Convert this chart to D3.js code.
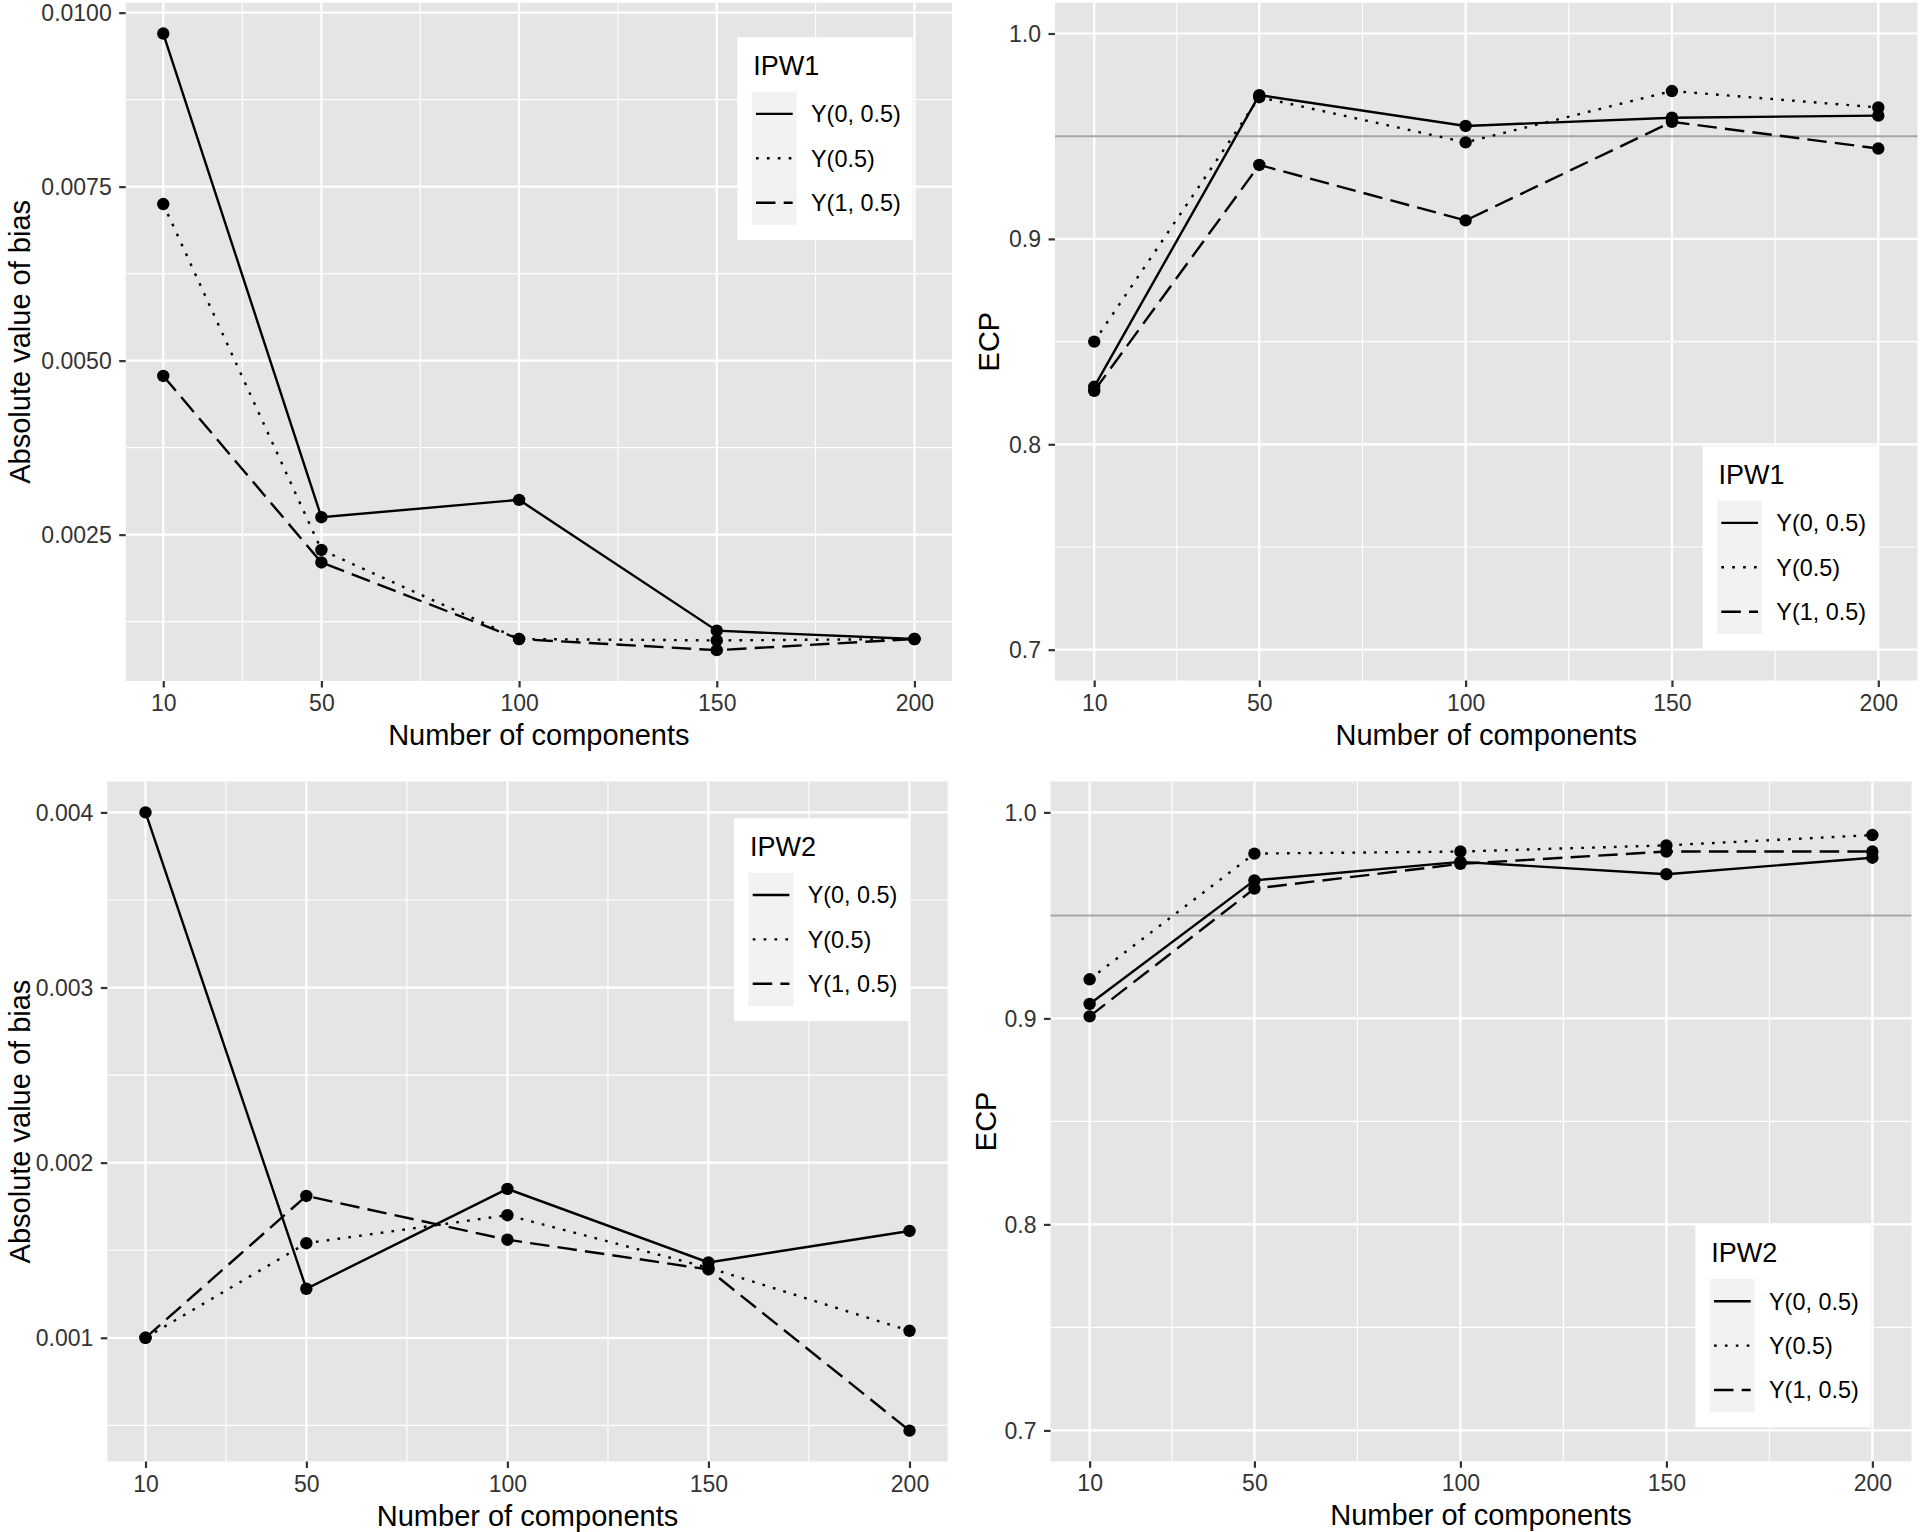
<!DOCTYPE html>
<html>
<head>
<meta charset="utf-8">
<script src="https://cdn.jsdelivr.net/npm/d3@7"></script>
<style>
  html, body { margin: 0; padding: 0; background: #ffffff; }
  svg { display: block; }
  text { font-family: "Liberation Sans", Arial, Helvetica, sans-serif; }
</style>
</head>
<body>
<svg id="chart" width="1920" height="1532"></svg>
<script>
// ---------------- DATA ----------------
const components = [10, 50, 100, 150, 200];
const xMinorBreaks = [30, 75, 125, 175];
const seriesNames = ["Y(0, 0.5)", "Y(0.5)", "Y(1, 0.5)"];

// IPW1 - absolute value of bias
const biasIPW1_Y0  = [0.0097, 0.00275, 0.0030, 0.00112, 0.0010];
const biasIPW1_Y05 = [0.00725, 0.00228, 0.0010, 0.00098, 0.0010];
const biasIPW1_Y1  = [0.00478, 0.0021, 0.0010, 0.00084, 0.0010];
const biasIPW1Ticks = [0.0025, 0.005, 0.0075, 0.01];
const biasIPW1Labels = ["0.0025", "0.0050", "0.0075", "0.0100"];
const biasIPW1Minor = [0.00125, 0.00375, 0.00625, 0.00875];

// IPW1 - ECP
const ecpIPW1_Y0  = [0.828, 0.970, 0.955, 0.959, 0.960];
const ecpIPW1_Y05 = [0.850, 0.969, 0.947, 0.972, 0.964];
const ecpIPW1_Y1  = [0.826, 0.936, 0.909, 0.957, 0.944];

// IPW2 - absolute value of bias
const biasIPW2_Y0  = [0.0040, 0.00128, 0.00185, 0.00143, 0.00161];
const biasIPW2_Y05 = [0.0010, 0.00154, 0.00170, 0.00140, 0.00104];
const biasIPW2_Y1  = [0.0010, 0.00181, 0.00156, 0.00139, 0.00047];
const biasIPW2Ticks = [0.001, 0.002, 0.003, 0.004];
const biasIPW2Labels = ["0.001", "0.002", "0.003", "0.004"];
const biasIPW2Minor = [0.0005, 0.0015, 0.0025, 0.0035];

// IPW2 - ECP
const ecpIPW2_Y0  = [0.907, 0.967, 0.976, 0.970, 0.978];
const ecpIPW2_Y05 = [0.919, 0.980, 0.981, 0.984, 0.989];
const ecpIPW2_Y1  = [0.901, 0.963, 0.975, 0.981, 0.981];

const ecpTicks = [0.7, 0.8, 0.9, 1.0];
const ecpLabels = ["0.7", "0.8", "0.9", "1.0"];
const ecpMinor = [0.75, 0.85, 0.95];
const ecpLimits = [0.7, 1.0];
const ecpTarget = 0.95;

const xTitle = "Number of components";
const biasTitle = "Absolute value of bias";
const ecpTitle = "ECP";

// ---------------- STYLE ----------------
const PANEL_BG = "#E5E5E5";
const dashes = [null, "2.7,8.2", "19.5,8.2"];
const LINE_W = 2.4;
const PT_R = 6.2;
const TICK_FONT = 23;
const TITLE_FONT = 29;
const LEG_TITLE_FONT = 27;
const LEG_FONT = 23.4;

const svg = d3.select("#chart");
svg.append("rect").attr("width", 1920).attr("height", 1532).attr("fill", "#fff");

function expand(lo, hi) {
  const r = hi - lo;
  return [lo - 0.05 * r, hi + 0.05 * r];
}

function drawPanel(cfg) {
  const g = svg.append("g");
  const x = d3.scaleLinear().domain(expand(d3.min(components), d3.max(components)))
    .range([cfg.left, cfg.right]);
  const y = d3.scaleLinear().domain(cfg.yDomain).range([cfg.bottom, cfg.top]);

  g.append("rect").attr("x", cfg.left).attr("y", cfg.top)
    .attr("width", cfg.right - cfg.left).attr("height", cfg.bottom - cfg.top)
    .attr("fill", PANEL_BG);

  g.selectAll(".ymin").data(cfg.yMinor).enter().append("line")
    .attr("x1", cfg.left).attr("x2", cfg.right)
    .attr("y1", d => y(d)).attr("y2", d => y(d))
    .attr("stroke", "#fff").attr("stroke-width", 1.1);
  g.selectAll(".xmin").data(xMinorBreaks).enter().append("line")
    .attr("y1", cfg.top).attr("y2", cfg.bottom)
    .attr("x1", d => x(d)).attr("x2", d => x(d))
    .attr("stroke", "#fff").attr("stroke-width", 1.1);
  g.selectAll(".ymaj").data(cfg.yTicks).enter().append("line")
    .attr("x1", cfg.left).attr("x2", cfg.right)
    .attr("y1", d => y(d)).attr("y2", d => y(d))
    .attr("stroke", "#fff").attr("stroke-width", 2.2);
  g.selectAll(".xmaj").data(components).enter().append("line")
    .attr("y1", cfg.top).attr("y2", cfg.bottom)
    .attr("x1", d => x(d)).attr("x2", d => x(d))
    .attr("stroke", "#fff").attr("stroke-width", 2.2);

  if (cfg.hline !== undefined) {
    g.append("line").attr("x1", cfg.left).attr("x2", cfg.right)
      .attr("y1", y(cfg.hline)).attr("y2", y(cfg.hline))
      .attr("stroke", "#A6A6A6").attr("stroke-width", 2);
  }

  const line = d3.line().x(d => x(d[0])).y(d => y(d[1]));
  cfg.series.forEach((vals, i) => {
    const pts = components.map((c, j) => [c, vals[j]]);
    g.append("path").datum(pts).attr("d", line)
      .attr("fill", "none").attr("stroke", "#000")
      .attr("stroke-width", LINE_W)
      .attr("stroke-dasharray", dashes[i]);
  });
  cfg.series.forEach((vals) => {
    const pts = components.map((c, j) => [c, vals[j]]);
    g.selectAll(null).data(pts).enter().append("circle")
      .attr("cx", d => x(d[0])).attr("cy", d => y(d[1]))
      .attr("r", PT_R).attr("fill", "#000");
  });

  const yAxis = d3.axisLeft(y).tickValues(cfg.yTicks)
    .tickFormat((d, i) => cfg.yLabels[i]).tickSize(6.5).tickPadding(7.5);
  const ya = g.append("g").attr("transform", `translate(${cfg.left},0)`).call(yAxis);
  const xAxis = d3.axisBottom(x).tickValues(components)
    .tickFormat(d3.format("d")).tickSize(6.5).tickPadding(7.5);
  const xa = g.append("g").attr("transform", `translate(0,${cfg.bottom})`).call(xAxis);
  [ya, xa].forEach(a => {
    a.select(".domain").remove();
    a.selectAll(".tick line").attr("stroke", "#333").attr("stroke-width", 2.2);
    a.selectAll(".tick text").attr("fill", "#333")
      .style("font-size", TICK_FONT + "px")
      .style("font-family", "'Liberation Sans', Arial, sans-serif");
  });
  ya.selectAll(".tick text").attr("dy", "0.35em");
  xa.selectAll(".tick text").attr("dy", null).attr("y", 30)
    .attr("dominant-baseline", "alphabetic");

  g.append("text").attr("x", (cfg.left + cfg.right) / 2).attr("y", cfg.bottom + 64)
    .attr("text-anchor", "middle").style("font-size", TITLE_FONT + "px")
    .attr("fill", "#000").text(xTitle);
  g.append("text")
    .attr("transform", `translate(${cfg.yTitleX},${(cfg.top + cfg.bottom) / 2}) rotate(-90)`)
    .attr("text-anchor", "middle").style("font-size", TITLE_FONT + "px")
    .attr("fill", "#000").text(cfg.yTitle);

  const L = cfg.legend;
  const lg = svg.append("g").attr("transform", `translate(${L.x},${L.y})`);
  lg.append("rect").attr("width", 175.4).attr("height", 202.7).attr("fill", "#fff");
  lg.append("text").attr("x", 16).attr("y", 37.7)
    .style("font-size", LEG_TITLE_FONT + "px").attr("fill", "#000").text(L.title);
  const keyH = 44.4;
  seriesNames.forEach((name, i) => {
    const ky = 54.4 + i * keyH;
    lg.append("rect").attr("x", 14.4).attr("y", ky).attr("width", 45).attr("height", keyH)
      .attr("fill", "#F2F2F2");
    lg.append("line").attr("x1", 18.7).attr("x2", 55.4)
      .attr("y1", ky + keyH / 2).attr("y2", ky + keyH / 2)
      .attr("stroke", "#000").attr("stroke-width", LINE_W)
      .attr("stroke-dasharray", dashes[i]);
    lg.append("text").attr("x", 73.7).attr("y", ky + keyH / 2 + 8.4)
      .style("font-size", LEG_FONT + "px").attr("fill", "#000").text(name);
  });
}

drawPanel({
  left: 125.7, right: 952, top: 2.7, bottom: 681,
  yDomain: expand(d3.min([...biasIPW1_Y0, ...biasIPW1_Y05, ...biasIPW1_Y1]),
                  d3.max([...biasIPW1_Y0, ...biasIPW1_Y05, ...biasIPW1_Y1])),
  yTicks: biasIPW1Ticks, yLabels: biasIPW1Labels, yMinor: biasIPW1Minor,
  yTitle: biasTitle, yTitleX: 29.5,
  series: [biasIPW1_Y0, biasIPW1_Y05, biasIPW1_Y1],
  legend: { x: 737.3, y: 37.3, title: "IPW1" }
});

drawPanel({
  left: 1055, right: 1917.5, top: 2.7, bottom: 680.5,
  yDomain: expand(ecpLimits[0], ecpLimits[1]),
  yTicks: ecpTicks, yLabels: ecpLabels, yMinor: ecpMinor,
  yTitle: ecpTitle, yTitleX: 999,
  hline: ecpTarget,
  series: [ecpIPW1_Y0, ecpIPW1_Y05, ecpIPW1_Y1],
  legend: { x: 1702.6, y: 446.3, title: "IPW1" }
});

drawPanel({
  left: 107.3, right: 947.7, top: 781.5, bottom: 1461.5,
  yDomain: expand(d3.min([...biasIPW2_Y0, ...biasIPW2_Y05, ...biasIPW2_Y1]),
                  d3.max([...biasIPW2_Y0, ...biasIPW2_Y05, ...biasIPW2_Y1])),
  yTicks: biasIPW2Ticks, yLabels: biasIPW2Labels, yMinor: biasIPW2Minor,
  yTitle: biasTitle, yTitleX: 29.5,
  series: [biasIPW2_Y0, biasIPW2_Y05, biasIPW2_Y1],
  legend: { x: 734, y: 818.4, title: "IPW2" }
});

drawPanel({
  left: 1050.5, right: 1911.5, top: 781.5, bottom: 1461.3,
  yDomain: expand(ecpLimits[0], ecpLimits[1]),
  yTicks: ecpTicks, yLabels: ecpLabels, yMinor: ecpMinor,
  yTitle: ecpTitle, yTitleX: 995.5,
  hline: ecpTarget,
  series: [ecpIPW2_Y0, ecpIPW2_Y05, ecpIPW2_Y1],
  legend: { x: 1695.3, y: 1224.6, title: "IPW2" }
});
</script>
</body>
</html>
